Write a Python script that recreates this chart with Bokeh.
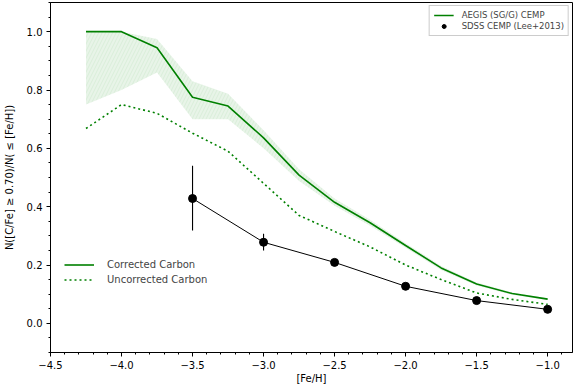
from bokeh.plotting import figure
from bokeh.models import (Range1d, Legend, LegendItem, FixedTicker)
from bokeh.embed import file_html
from bokeh.resources import INLINE

# Metallicity bins for the AEGIS CEMP fractions
feh = [-4.25, -4.0, -3.75, -3.5, -3.25, -3.0, -2.75, -2.5, -2.25, -2.0, -1.75, -1.5, -1.25, -1.0]
frac_corrected = [1.0, 1.0, 0.945, 0.775, 0.745, 0.636, 0.508, 0.415, 0.345, 0.267, 0.19, 0.135, 0.102, 0.083]
frac_upper = [1.0, 1.0, 0.975, 0.83, 0.787, 0.662, 0.528, 0.428, 0.355, 0.275, 0.197, 0.14, 0.106, 0.086]
frac_lower = [0.75, 0.80, 0.86, 0.70, 0.70, 0.60, 0.488, 0.403, 0.335, 0.259, 0.183, 0.13, 0.098, 0.080]
frac_uncorrected = [0.668, 0.75, 0.72, 0.652, 0.59, 0.48, 0.37, 0.315, 0.262, 0.20, 0.15, 0.104, 0.082, 0.065]

# SDSS CEMP fractions (Lee+2013)
sdss_feh = [-3.5, -3.0, -2.5, -2.0, -1.5, -1.0]
sdss_frac = [0.428, 0.278, 0.209, 0.127, 0.078, 0.048]
sdss_lo = [0.318, 0.25, 0.209, 0.127, 0.078, 0.048]
sdss_hi = [0.54, 0.307, 0.209, 0.127, 0.078, 0.048]

xticks = [-4.5, -4.0, -3.5, -3.0, -2.5, -2.0, -1.5, -1.0]
yticks = [0.0, 0.2, 0.4, 0.6, 0.8, 1.0]

GREEN = "#008000"
FONT = "DejaVu Sans"

p = figure(width=573, height=391, output_backend="svg", toolbar_location=None,
           x_range=Range1d(-4.5, -0.825), y_range=Range1d(-0.1, 1.1),
           min_border_left=47, min_border_right=1, min_border_top=2, min_border_bottom=39)
p.grid.visible = False
p.outline_line_color = "black"
p.outline_line_width = 1
p.background_fill_color = "white"
p.border_fill_color = "white"

for ax in (p.xaxis[0], p.yaxis[0]):
    ax.major_label_text_font = FONT
    ax.major_label_text_font_size = "10px"
    ax.major_label_text_color = "black"
    ax.axis_label_text_font = FONT
    ax.axis_label_text_font_size = "10px"
    ax.axis_label_text_font_style = "normal"
    ax.axis_label_text_color = "black"
    ax.axis_line_color = "black"
    ax.major_tick_line_color = "black"
    ax.minor_tick_line_color = "black"
    ax.major_tick_out = 4
    ax.major_tick_in = 0
    ax.minor_tick_out = 2
    ax.minor_tick_in = 0

p.xaxis.ticker = FixedTicker(ticks=xticks,
                             minor_ticks=[round(-4.5 + 0.1 * i, 2) for i in range(37)])
p.yaxis.ticker = FixedTicker(ticks=yticks,
                             minor_ticks=[round(-0.1 + 0.05 * i, 2) for i in range(25)])
p.xaxis.axis_label = "[Fe/H]"
p.yaxis.axis_label = "N([C/Fe] \u2265 0.70)/N( \u2264 [Fe/H])"
p.xaxis.major_label_overrides = {t: "\u2212%.1f" % abs(t) for t in xticks}
p.yaxis.major_label_overrides = {t: "%.1f" % t for t in yticks}
p.xaxis.axis_label_standoff = 1
p.yaxis.axis_label_standoff = 9
p.xaxis.major_label_standoff = 4
p.yaxis.major_label_standoff = 4

# Uncertainty band on the corrected fraction
p.varea(x=feh, y1=frac_lower, y2=frac_upper, fill_color=GREEN, fill_alpha=0.09,
        hatch_pattern="/", hatch_color=GREEN, hatch_alpha=0.08, hatch_scale=7,
        hatch_weight=0.8)

corr = p.line(feh, frac_corrected, line_color=GREEN, line_width=1.6)
uncorr = p.line(feh, frac_uncorrected, line_color=GREEN, line_width=1.6, line_dash="2 3")

# SDSS points with error bars
p.segment(x0=sdss_feh, y0=sdss_lo, x1=sdss_feh, y1=sdss_hi, line_color="black", line_width=1.1)
p.line(sdss_feh, sdss_frac, line_color="black", line_width=1)
sdss = p.scatter(sdss_feh, sdss_frac, size=8, fill_color="black", line_color="black")

leg1 = Legend(items=[LegendItem(label="AEGIS (SG/G) CEMP", renderers=[corr]),
                     LegendItem(label="SDSS CEMP (Lee+2013)", renderers=[sdss])],
              location="top_right", label_text_font=FONT, label_text_font_size="8.5px",
              border_line_color="#cccccc", border_line_alpha=1, background_fill_alpha=0.9,
              glyph_width=20, glyph_height=10, spacing=1, padding=4, margin=3,
              label_standoff=8, label_height=10)
leg2 = Legend(items=[LegendItem(label="Corrected Carbon", renderers=[corr]),
                     LegendItem(label="Uncorrected Carbon", renderers=[uncorr])],
              location=(10, 62), label_text_font=FONT, label_text_font_size="10px",
              border_line_alpha=0, background_fill_alpha=0,
              glyph_width=30, glyph_height=13, spacing=2, padding=4,
              label_standoff=13, label_height=13)
p.add_layout(leg1)
p.add_layout(leg2)

open("out.html", "w").write(file_html(p, INLINE))
